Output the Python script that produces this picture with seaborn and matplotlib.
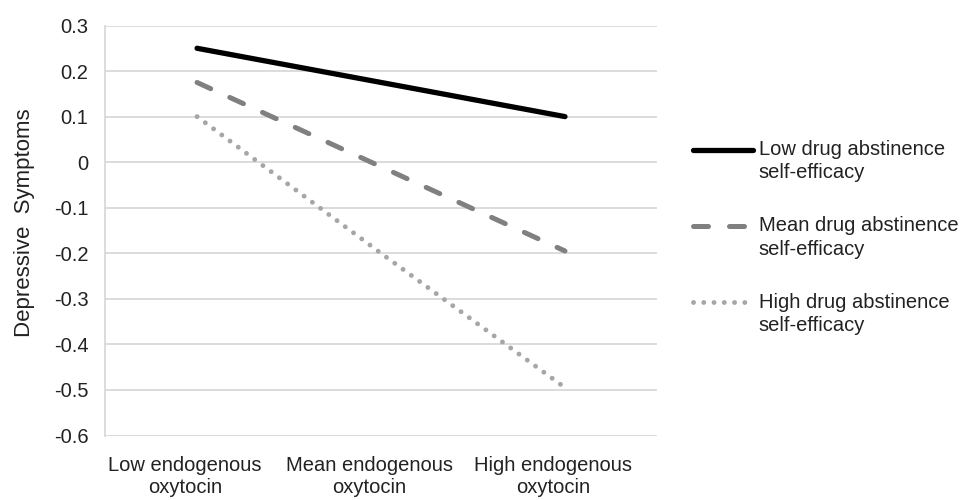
import numpy as np
import pandas as pd
import matplotlib
matplotlib.use("Agg")
import matplotlib.pyplot as plt
import matplotlib.transforms as mtransforms
from matplotlib.legend_handler import HandlerLine2D
import seaborn as sns

# values
oxytocin = ["Low endogenous\noxytocin", "Mean endogenous\noxytocin", "High endogenous\noxytocin"]
groups = ["Low drug abstinence\nself-efficacy", "Mean drug abstinence\nself-efficacy", "High drug abstinence\nself-efficacy"]
low_se = [0.25, 0.175, 0.10]
mean_se = [0.175, -0.01, -0.195]
high_se = [0.10, -0.20, -0.495]
yticks = [0.3, 0.2, 0.1, 0, -0.1, -0.2, -0.3, -0.4, -0.5, -0.6]

rows = []
for g, vals in zip(groups, [low_se, mean_se, high_se]):
    for i, v in enumerate(vals):
        rows.append({"x": i, "group": g, "y": v})
df = pd.DataFrame(rows)


# legend sample sits on the first line of each two-line label
class UpperLine(HandlerLine2D):
    def create_artists(self, legend, orig_handle, xdescent, ydescent,
                       width, height, fontsize, trans):
        arts = super().create_artists(legend, orig_handle, xdescent, ydescent,
                                      width, height, fontsize, trans)
        for a in arts:
            a.set_ydata(np.asarray(a.get_ydata()) + fontsize * 0.6)
        return arts


sns.set_style("white")
plt.rcParams['font.family'] = ['Liberation Sans', 'DejaVu Sans']

fig = plt.figure(figsize=(9.64, 5), dpi=100)
ax = fig.add_axes([0.109, 0.129, 0.5725, 0.82])

sns.lineplot(data=df, x="x", y="y", hue="group", style="group",
             palette={groups[0]: "#000000", groups[1]: "#808080", groups[2]: "#a6a6a6"},
             dashes={groups[0]: "", groups[1]: (3, 4.2), groups[2]: (0.01, 2.1)},
             linewidth=3.6, legend=False, ax=ax)

lines = ax.get_lines()[:3]
lines[0].set_linewidth(3.8)
lines[2].set_linewidth(3.5)
for ln in lines:
    ln.set_dash_capstyle("round")
    ln.set_solid_capstyle("round")

ax.set_xlim(-0.5, 2.5)
ax.set_ylim(-0.6, 0.3)
ax.set_yticks(yticks)
ax.set_yticklabels([f"{t:g}" for t in yticks])
ax.set_xticks(range(3))
ax.set_xticklabels(oxytocin, linespacing=1.15)
ax.tick_params(axis="both", labelsize=14.5, length=0, colors="#222222")
ax.tick_params(axis="y", pad=12)
ax.tick_params(axis="x", pad=15)
shift = mtransforms.ScaledTranslation(-12 / 100, 0, fig.dpi_scale_trans)
for lab in ax.get_xticklabels():
    lab.set_transform(lab.get_transform() + shift)
ax.grid(axis="y", color="#d9d9d9", linewidth=1.3)
ax.set_axisbelow(True)
for s in ["top", "right", "bottom"]:
    ax.spines[s].set_visible(False)
ax.spines["left"].set_color("#d9d9d9")
ax.spines["left"].set_linewidth(1.3)
ax.set_xlabel("")
ax.set_ylabel("Depressive  Symptoms", fontsize=16, color="#222222")
ax.yaxis.set_label_coords(-0.127, 0.52)

leg = ax.legend(handles=lines, labels=groups, loc="upper left",
                bbox_to_anchor=(1.033, 0.765), frameon=False, fontsize=14.5,
                handlelength=2.95, handletextpad=0.3, labelspacing=1.68,
                handler_map={ln: UpperLine() for ln in lines})
for t in leg.get_texts():
    t.set_color("#222222")
    t.set_linespacing(1.3)

fig.savefig("out.png", dpi=100)
